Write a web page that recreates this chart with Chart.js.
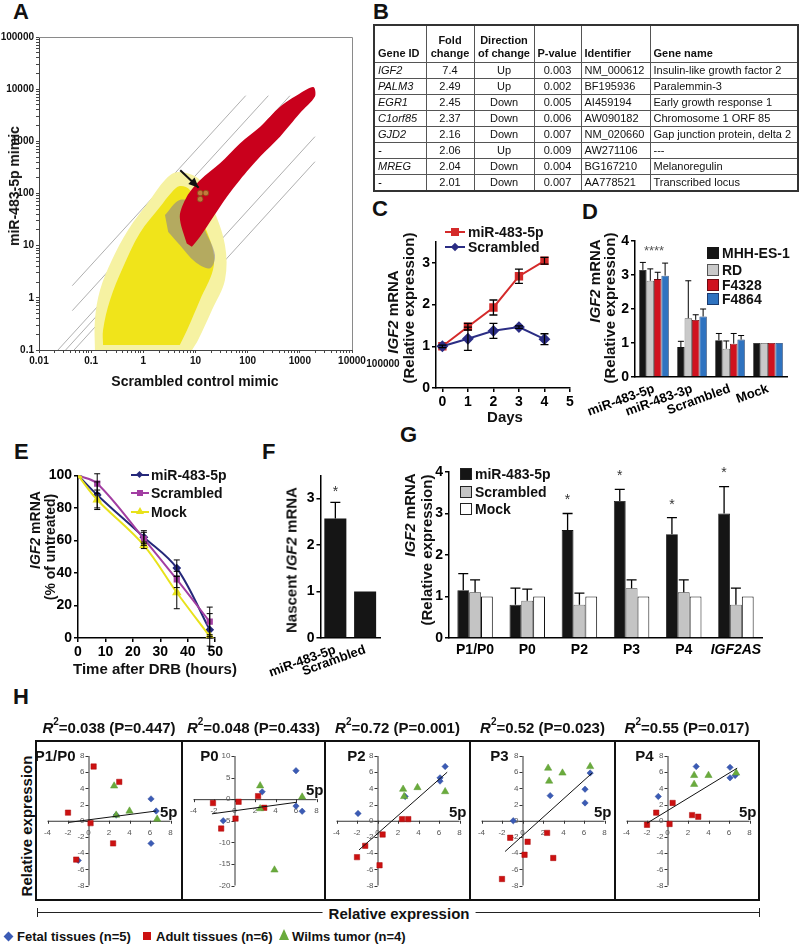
<!DOCTYPE html>
<html>
<head>
<meta charset="utf-8">
<script src="https://cdn.jsdelivr.net/npm/chart.js@4.4.1/dist/chart.umd.min.js"></script>
<style>
html,body{margin:0;padding:0;background:#fff;}
#fig{position:relative;width:801px;height:948px;overflow:hidden;font-family:'Liberation Sans',Arial,Helvetica,sans-serif;color:#111;}
#fig canvas{position:absolute;}
.L{position:absolute;font-weight:bold;font-size:22px;line-height:22px;}
.V{position:absolute;transform:translate(-50%,-50%) rotate(-90deg);white-space:nowrap;font-weight:bold;font-size:15px;line-height:15px;}
.C{position:absolute;transform:translate(-50%,-50%);white-space:nowrap;font-weight:bold;line-height:1;}
.T{position:absolute;white-space:nowrap;font-weight:bold;line-height:1;}
#tbl{position:absolute;left:373px;top:24px;width:424px;border-collapse:collapse;font-size:11px;table-layout:fixed;border:2px solid #333;}
#tbl td{border:1px solid #555;padding:0 3px;height:15px;line-height:15px;white-space:nowrap;overflow:hidden;}
#tbl tr.h td{height:34px;vertical-align:bottom;font-weight:bold;line-height:13px;padding-bottom:2px;}
#tbl td.c{text-align:center;}
.box{position:absolute;border:2px solid #111;box-sizing:border-box;}
.sq{position:absolute;box-sizing:border-box;}
</style>
</head>
<body>
<div id="fig"></div>
<script>
// ================= DATA =================
// Panel A: expression scatter (log-log); cloud outlines and marks
const aYellowHalo = [[0.118,0.1],[0.118,0.376],[0.148,1.41],[0.25,5.3],[0.51,20],[1.34,75],[2.6,182],[4.6,258],[12.2,182],[20.7,60],[36.7,10.3],[36.7,2.2],[20.7,0.585],[11.2,0.156],[8.6,0.1]];
const aYellowCore = [[0.169,0.125],[0.169,0.242],[0.23,0.91],[0.41,3.9],[0.86,17.5],[2.08,55],[3.54,107],[5.0,139],[7.8,117],[12.2,38.7],[21.6,8.3],[21.6,3.4],[12.2,0.91],[6.9,0.242],[5.0,0.125]];
const aMixed = [[2.6,38.7],[5.0,75],[9.8,60],[15.2,20],[23.6,6.6],[19,3.7],[9.8,4.9],[5.0,10.3],[3.0,18.3]];
const aRedBand = [[6.8,11],[5.0,36],[6.8,87],[12.3,182],[29.5,380],[71,912],[174,1900],[417,4600],[1000,8300],[1820,11000],[1950,7200],[1000,3450],[417,1230],[174,510],[71,182],[40,87],[22,36],[12.3,15],[8.5,9.5]];
const aHits = [[12.3,102],[15.8,102],[12.3,78]];
const aArrow = [[5.1,280],[11.5,129]];
const aGuideLines = [
  [[0.0435,1.71],[91.6,7500]],
  [[0.0435,0.568],[249,7500]],
  [[0.0231,0.1],[646,7500]],
  [[0.0324,0.1],[908,7500]],
  [[0.047,0.1],[1313,7500]],
  [[0.368,0.1],[1950,1230]],
  [[1.0,0.1],[1950,407]]
];

// Panel B: table
const bGeneIds = ['IGF2','PALM3','EGR1','C1orf85','GJD2','-','MREG','-'];
const bFold = ['7.4','2.49','2.45','2.37','2.16','2.06','2.04','2.01'];
const bDirection = ['Up','Up','Down','Down','Down','Up','Down','Down'];
const bPvalue = ['0.003','0.002','0.005','0.006','0.007','0.009','0.004','0.007'];
const bIdentifier = ['NM_000612','BF195936','AI459194','AW090182','NM_020660','AW271106','BG167210','AA778521'];
const bGeneName = ['Insulin-like growth factor 2','Paralemmin-3','Early growth response 1','Chromosome 1 ORF 85','Gap junction protein, delta 2','---','Melanoregulin','Transcribed locus'];

// Panel C
const cDays = [0,1,2,3,4];
const cMir = [1.0,1.47,1.93,2.68,3.05];
const cMirErr = [0.03,0.08,0.18,0.17,0.08];
const cScr = [1.0,1.18,1.37,1.46,1.17];
const cScrErr = [0,0.28,0.18,0.03,0.13];

// Panel D
const dGroups = ['miR-483-5p','miR-483-3p','Scrambled','Mock'];
const dSeries = ['MHH-ES-1','RD','F4328','F4864'];
const dValues = [[3.15,0.88,1.08,1.0],[2.83,1.73,0.83,1.0],[2.88,1.68,0.98,1.0],[2.98,1.78,1.1,1.0]];
const dErrors = [[0.22,0.17,0.2,0],[0.35,1.1,0.23,0],[0.2,0.15,0.3,0],[0.37,0.22,0.12,0]];

// Panel E
const eHours = [0,7,24,36,48];
const eMir = [100,88,62,43,5];
const eMirErr = [0,8,4,5,10];
const eScr = [100,95,61,36,10];
const eScrErr = [0,6,4,5,9];
const eMock = [100,85,57,28,1];
const eMockErr = [0,6,2,10,1];

// Panel F
const fLabels = ['miR-483-5p','Scrambled'];
const fValues = [2.57,1.0];
const fErrors = [0.35,0];

// Panel G
const gLabels = ['P1/P0','P0','P2','P3','P4','IGF2AS'];
const gMir = [1.15,0.8,2.6,3.3,2.5,3.0];
const gMirErr = [0.4,0.4,0.4,0.28,0.4,0.65];
const gScr = [1.1,0.9,0.8,1.2,1.1,0.8];
const gScrErr = [0.3,0.28,0.28,0.2,0.3,0.4];
const gMock = [1,1,1,1,1,1];
const gStarLevels = [null,null,3.33,3.9,3.2,3.98];

// Panel H
const hPanels = ['P1/P0','P0','P2','P3','P4'];
const hR2 = ['0.038','0.048','0.72','0.52','0.55'];
const hP = ['0.447','0.433','0.001','0.023','0.017'];
const hFetal = [
  [[6.1,2.7],[6.6,1.2],[2.7,0.7],[6.1,-2.8],[-1.0,-4.9]],
  [[6.0,6.6],[2.7,1.7],[6.0,-1.6],[6.6,-2.8],[-1.1,-5.0]],
  [[6.6,6.7],[6.1,5.3],[6.1,4.9],[2.7,3.0],[-1.9,0.9]],
  [[6.6,5.9],[6.1,3.9],[6.1,2.2],[2.7,3.1],[-0.9,0.0]],
  [[2.8,6.7],[6.1,6.6],[6.1,5.3],[6.6,5.6],[-0.9,3.0]]
];
const hAdult = [
  [[0.5,6.7],[3.0,4.8],[-2.0,1.0],[0.2,-0.3],[2.4,-2.8],[-1.2,-4.8]],
  [[2.3,0.7],[0.4,-0.6],[-2.1,-0.9],[2.9,-2.0],[0.1,-4.5],[-1.3,-6.8]],
  [[2.4,0.2],[3.0,0.2],[0.5,-1.7],[-1.2,-3.1],[-2.0,-4.5],[0.2,-5.5]],
  [[2.4,-1.5],[-1.2,-2.1],[0.5,-2.6],[0.2,-4.2],[3.0,-4.6],[-2.0,-7.2]],
  [[0.5,2.2],[-1.1,1.0],[2.4,0.7],[3.0,0.5],[-2.0,-0.5],[0.2,-0.4]]
];
const hWilms = [
  [[2.5,4.3],[2.7,0.7],[4.0,1.2],[6.7,0.2]],
  [[2.5,3.1],[2.5,-2.2],[6.6,0.5],[3.9,-16.4]],
  [[2.5,3.9],[2.6,3.0],[3.9,4.1],[6.6,3.6]],
  [[2.5,6.5],[2.6,4.9],[3.9,5.9],[6.6,6.7]],
  [[2.6,5.6],[2.6,4.5],[4.0,5.6],[6.7,5.9]]
];
const hFit = [
  [[-1.9,-0.2],[6.6,1.2]],
  [[-2.2,-3.4],[6.1,-0.7]],
  [[-1.8,-3.6],[6.8,6.0]],
  [[-1.7,-3.8],[6.8,5.9]],
  [[-2.0,-0.3],[6.8,6.5]]
];
const hYRange = [[-8,8],[-20,10],[-8,8],[-8,8],[-8,8]];
const hYTicks = [[-8,-6,-4,-2,0,2,4,6,8],[-20,-15,-10,-5,0,5,10],[-8,-6,-4,-2,0,2,4,6,8],[-8,-6,-4,-2,0,2,4,6,8],[-8,-6,-4,-2,0,2,4,6,8]];
const hXTicks = [-4,-2,0,2,4,6,8];
const hLegend = ['Fetal tissues (n=5)','Adult tissues (n=6)','Wilms tumor (n=4)'];

// ================= HELPERS =================
const FONT = "'Liberation Sans', Arial, Helvetica, sans-serif";
const fig = document.getElementById('fig');
Chart.defaults.font.family = FONT;
Chart.defaults.color = '#000';
Chart.defaults.animation = false;
Chart.defaults.responsive = false;
Chart.defaults.plugins.legend.display = false;
Chart.defaults.plugins.tooltip.enabled = false;

function canvasAt(left, top, w, h) {
  const c = document.createElement('canvas');
  c.width = w; c.height = h;
  c.style.left = left + 'px'; c.style.top = top + 'px';
  c.style.width = w + 'px'; c.style.height = h + 'px';
  fig.appendChild(c);
  return c;
}
function el(cls, html, style) {
  const d = document.createElement('div');
  d.className = cls; d.innerHTML = html;
  Object.assign(d.style, style);
  fig.appendChild(d);
  return d;
}
function letter(t, x, y) { el('L', t, {left: x + 'px', top: (y - 4) + 'px'}); }
function vtitle(html, cx, cy, size) { el('V', html, {left: cx + 'px', top: cy + 'px', fontSize: (size || 15) + 'px', lineHeight: (size || 15) + 'px'}); }
function ctitle(html, cx, cy, size) { el('C', html, {left: cx + 'px', top: cy + 'px', fontSize: (size || 15) + 'px'}); }
function pairs(a) { return a.map(p => ({x: p[0], y: p[1]})); }
const toXY = (xs, ys) => xs.map((x, i) => ({x: x, y: ys[i]}));

function linAxis(min, max, ticks, size, fit, isX, extra) {
  const o = {
    type: 'linear', min: min, max: max,
    afterBuildTicks: s => { s.ticks = ticks.map(v => ({value: v})); },
    grid: {drawOnChartArea: false, drawTicks: true, tickLength: 4, color: '#000', lineWidth: 1.5},
    border: {display: true, color: '#000', width: 1.5},
    ticks: {color: '#000', font: {size: size, weight: 'bold', family: FONT}, padding: 2, autoSkip: false, maxRotation: 0}
  };
  if (isX) o.afterFit = s => { s.height = fit; }; else o.afterFit = s => { s.width = fit; };
  return Object.assign(o, extra || {});
}
function catAxis(size, fit, rot, fontFn) {
  return {
    type: 'category',
    afterFit: s => { s.height = fit; },
    grid: {display: true, drawOnChartArea: false, drawTicks: false, color: '#000'},
    border: {display: true, color: '#000', width: 1.5},
    ticks: {color: '#000', font: fontFn || {size: size, weight: 'bold', family: FONT}, padding: 4, autoSkip: false, minRotation: rot, maxRotation: rot}
  };
}

const errorBars = {
  id: 'errorBars',
  afterDatasetsDraw(chart) {
    const ctx = chart.ctx;
    chart.data.datasets.forEach((ds, i) => {
      if (!ds.errors) return;
      const meta = chart.getDatasetMeta(i);
      const ys = chart.scales[meta.yAxisID];
      ctx.save();
      ctx.strokeStyle = '#000';
      ctx.lineWidth = ds.errLineWidth || 1.3;
      meta.data.forEach((pt, j) => {
        const e = ds.errors[j];
        if (!e) return;
        const raw = ds.data[j];
        const v = (raw !== null && typeof raw === 'object') ? raw.y : raw;
        const x = pt.x;
        const yt = ys.getPixelForValue(v + e);
        const yb = ys.getPixelForValue(ds.errUpOnly ? v : v - e);
        const c = ds.errCap || 3;
        ctx.beginPath();
        ctx.moveTo(x, yt); ctx.lineTo(x, yb);
        ctx.moveTo(x - c, yt); ctx.lineTo(x + c, yt);
        if (!ds.errUpOnly) { ctx.moveTo(x - c, yb); ctx.lineTo(x + c, yb); }
        ctx.stroke();
      });
      ctx.restore();
    });
  }
};
function starPlugin(items, size, color) {
  return {
    id: 'stars',
    afterDatasetsDraw(chart) {
      const ctx = chart.ctx, xs = chart.scales.x, ys = chart.scales.y;
      ctx.save();
      ctx.font = size + 'px ' + FONT; ctx.fillStyle = color;
      ctx.textAlign = 'center'; ctx.textBaseline = 'middle';
      items.forEach(it => {
        if (it.v === null) return;
        const x = (it.ds !== undefined) ? chart.getDatasetMeta(it.ds).data[it.i].x : xs.getPixelForValue(it.i);
        ctx.fillText(it.text, x, ys.getPixelForValue(it.v));
      });
      ctx.restore();
    }
  };
}
const framePlugin = {
  id: 'frame',
  afterDraw(chart) {
    const {left, top, right, bottom} = chart.chartArea;
    const ctx = chart.ctx;
    ctx.save(); ctx.strokeStyle = '#8a8a8a'; ctx.lineWidth = 1;
    ctx.beginPath();
    ctx.moveTo(left, top + 0.5); ctx.lineTo(right + 0.5, top + 0.5); ctx.lineTo(right + 0.5, bottom);
    ctx.stroke(); ctx.restore();
  }
};
const arrowPlugin = {
  id: 'arrowHead',
  afterDatasetsDraw(chart) {
    const ctx = chart.ctx;
    chart.data.datasets.forEach((ds, i) => {
      if (!ds.arrowHead) return;
      const pts = chart.getDatasetMeta(i).data;
      const a = pts[pts.length - 2], b = pts[pts.length - 1];
      const ang = Math.atan2(b.y - a.y, b.x - a.x), L = 10, W = 4.5;
      ctx.save(); ctx.fillStyle = '#111';
      ctx.beginPath();
      ctx.moveTo(b.x, b.y);
      ctx.lineTo(b.x - L * Math.cos(ang) + W * Math.sin(ang), b.y - L * Math.sin(ang) - W * Math.cos(ang));
      ctx.lineTo(b.x - L * Math.cos(ang) - W * Math.sin(ang), b.y - L * Math.sin(ang) + W * Math.cos(ang));
      ctx.closePath(); ctx.fill(); ctx.restore();
    });
  }
};
function crossAxes(o) {
  return {
    id: 'crossAxes',
    beforeDatasetsDraw(chart) {
      const ctx = chart.ctx, xs = chart.scales.x, ys = chart.scales.y;
      const x0 = xs.getPixelForValue(0), y0 = ys.getPixelForValue(0);
      const xl = xs.getPixelForValue(o.xTicks[0]), xr = xs.getPixelForValue(o.xTicks[o.xTicks.length - 1]);
      const yb = ys.getPixelForValue(o.yTicks[0]), yt = ys.getPixelForValue(o.yTicks[o.yTicks.length - 1]);
      ctx.save();
      ctx.strokeStyle = '#333'; ctx.lineWidth = 1;
      ctx.beginPath();
      ctx.moveTo(xl, y0 + 0.5); ctx.lineTo(xr, y0 + 0.5);
      ctx.moveTo(x0 + 0.5, yb); ctx.lineTo(x0 + 0.5, yt);
      o.xTicks.forEach(v => { const x = Math.round(xs.getPixelForValue(v)) + 0.5; ctx.moveTo(x, y0); ctx.lineTo(x, y0 + 3); });
      o.yTicks.forEach(v => { const y = Math.round(ys.getPixelForValue(v)) + 0.5; ctx.moveTo(x0 - 3, y); ctx.lineTo(x0, y); });
      ctx.stroke();
      ctx.fillStyle = '#555'; ctx.font = '8px ' + FONT;
      ctx.textAlign = 'center'; ctx.textBaseline = 'top';
      o.xTicks.forEach(v => ctx.fillText(String(v), xs.getPixelForValue(v), y0 + 8));
      ctx.textAlign = 'right'; ctx.textBaseline = 'middle';
      o.yTicks.forEach(v => ctx.fillText(String(v), x0 - 4, ys.getPixelForValue(v)));
      ctx.fillStyle = '#111'; ctx.font = 'bold 15px ' + FONT;
      ctx.textAlign = 'right'; ctx.textBaseline = 'alphabetic';
      ctx.fillText('5p', xr + 7, y0 - 4);
      ctx.textBaseline = 'middle';
      ctx.fillText(o.panel, x0 - o.gap, yt + 1);
      ctx.restore();
    }
  };
}

// ================= PANEL LETTERS =================
letter('A', 13, 5); letter('B', 373, 5); letter('C', 372, 202); letter('D', 582, 205);
letter('E', 14, 445); letter('F', 262, 445); letter('G', 400, 428); letter('H', 13, 690);

// ================= PANEL A =================
function logTicks(e0, e1) { const t = []; for (let e = e0; e < e1; e++) for (let m = 1; m < 10; m++) t.push(m * Math.pow(10, e)); t.push(Math.pow(10, e1)); return t; }
function logLabel(v) {
  const l = Math.log10(v);
  if (Math.abs(l - Math.round(l)) > 1e-6) return '';
  return v >= 1 ? String(Math.round(v)) : String(+v.toPrecision(1));
}
function logAxis(min, max, e0, e1, fit, isX) {
  const o = {
    type: 'logarithmic', min: min, max: max,
    afterBuildTicks: s => { s.ticks = logTicks(e0, e1).map(v => ({value: v})); },
    grid: {drawOnChartArea: false, drawTicks: true, tickLength: 3, color: '#444', lineWidth: 1},
    border: {display: true, color: '#444', width: 1},
    ticks: {color: '#111', font: {size: 10, weight: 'bold', family: FONT}, padding: 2, autoSkip: false, maxRotation: 0, callback: v => logLabel(v)}
  };
  if (isX) o.afterFit = s => { s.height = fit; }; else o.afterFit = s => { s.width = fit; };
  return o;
}
const aDatasets = [];
aGuideLines.forEach(seg => aDatasets.push({data: pairs(seg), borderColor: '#9a9a9a', borderWidth: 0.8, pointRadius: 0, order: 6}));
aDatasets.push({data: pairs(aYellowHalo), borderWidth: 0, borderColor: 'rgba(0,0,0,0)', backgroundColor: '#f6f2a2', fill: 'shape', tension: 0.35, pointRadius: 0, order: 5});
aDatasets.push({data: pairs(aYellowCore), borderWidth: 0, borderColor: 'rgba(0,0,0,0)', backgroundColor: '#f0e41a', fill: 'shape', tension: 0.35, pointRadius: 0, order: 4});
aDatasets.push({data: pairs(aMixed), borderWidth: 0, borderColor: 'rgba(0,0,0,0)', backgroundColor: 'rgba(120,112,165,0.5)', fill: 'shape', tension: 0.35, pointRadius: 0, order: 3});
aDatasets.push({data: pairs(aRedBand), borderWidth: 0, borderColor: 'rgba(0,0,0,0)', backgroundColor: '#c9001c', fill: 'shape', tension: 0.3, pointRadius: 0, order: 2});
aDatasets.push({data: pairs(aHits), showLine: false, pointRadius: 2.8, pointStyle: 'circle', backgroundColor: '#c27a3c', borderColor: '#8a4a1a', borderWidth: 0.8, order: 1});
aDatasets.push({data: pairs(aArrow), borderColor: '#111', borderWidth: 2, pointRadius: 0, arrowHead: true, order: 0});
new Chart(canvasAt(0, 0, 400, 400), {
  type: 'line',
  data: {datasets: aDatasets},
  options: {
    devicePixelRatio: 1,
    layout: {padding: {top: 37, right: 48, left: 0, bottom: 0}},
    scales: {x: logAxis(0.01, 10000, -2, 4, 50, true), y: logAxis(0.1, 100000, -1, 5, 39, false)}
  },
  plugins: [framePlugin, arrowPlugin]
});
ctitle('100000', 383, 364, 10);
vtitle('miR-483-5p mimic', 14, 186, 14);
ctitle('Scrambled control mimic', 195, 381, 14);

// ================= PANEL B (table) =================
(function () {
  const t = document.createElement('table'); t.id = 'tbl';
  const widths = [52, 48, 60, 47, 69, 148];
  const cg = document.createElement('colgroup');
  widths.forEach(w => { const c = document.createElement('col'); c.style.width = w + 'px'; cg.appendChild(c); });
  t.appendChild(cg);
  let h = '<tr class="h"><td>Gene ID</td><td class="c">Fold<br>change</td><td class="c">Direction<br>of change</td><td>P-value</td><td>Identifier</td><td>Gene name</td></tr>';
  bGeneIds.forEach((g, i) => {
    h += '<tr><td><i>' + g + '</i></td><td class="c">' + bFold[i] + '</td><td class="c">' + bDirection[i] + '</td><td class="c">' + bPvalue[i] + '</td><td>' + bIdentifier[i] + '</td><td>' + bGeneName[i] + '</td></tr>';
  });
  t.insertAdjacentHTML('beforeend', h);
  fig.appendChild(t);
})();

// ================= PANEL C =================
new Chart(canvasAt(395, 215, 182, 210), {
  type: 'line',
  data: {datasets: [
    {data: toXY(cDays, cScr), errors: cScrErr, borderColor: '#2b2d84', backgroundColor: '#2b2d84', borderWidth: 2, pointStyle: 'rectRot', pointRadius: 4.5, errCap: 4},
    {data: toXY(cDays, cMir), errors: cMirErr, borderColor: '#d42a2a', backgroundColor: '#d42a2a', borderWidth: 2, pointStyle: 'rect', pointRadius: 4.5, errCap: 4}
  ]},
  options: {
    devicePixelRatio: 1,
    layout: {padding: {top: 27, right: 7, left: 0, bottom: 0}},
    scales: {x: linAxis(-0.25, 5, [0, 1, 2, 3, 4, 5], 14, 37, true), y: linAxis(0, 3.5, [0, 1, 2, 3], 14, 41, false)}
  },
  plugins: [errorBars]
});
vtitle('<i>IGF2</i> mRNA', 392, 312);
vtitle('(Relative expression)', 408, 308);
ctitle('Days', 505, 416);
(function () {
  const items = [['miR-483-5p', '#d42a2a', 'sq', 232], ['Scrambled', '#2b2d84', 'dia', 247]];
  items.forEach(it => {
    el('sq', '', {left: '445px', top: (it[3] - 1) + 'px', width: '20px', height: '2px', background: it[1]});
    if (it[2] === 'sq') el('sq', '', {left: '451px', top: (it[3] - 4) + 'px', width: '8px', height: '8px', background: it[1]});
    else el('sq', '', {left: '452px', top: (it[3] - 3) + 'px', width: '6px', height: '6px', background: it[1], transform: 'rotate(45deg)'});
    el('T', it[0], {left: '468px', top: (it[3] - 7) + 'px', fontSize: '14px'});
  });
})();

// ================= PANEL D =================
const dColors = ['#151515', '#c9c9c9', '#d0121f', '#2f73c0'];
const dBorders = ['#151515', '#555', '#6e0a10', '#1b3c70'];
new Chart(canvasAt(575, 215, 222, 220), {
  type: 'bar',
  data: {labels: dGroups, datasets: dSeries.map((s, k) => ({
    label: s, data: dValues[k], errors: dErrors[k], errUpOnly: true, errCap: 3, errLineWidth: 1,
    backgroundColor: dColors[k], borderColor: dBorders[k], borderWidth: 0.8,
    categoryPercentage: 0.78, barPercentage: 1.0
  }))},
  options: {
    devicePixelRatio: 1,
    layout: {padding: {top: 26, right: 10, left: 0, bottom: 0}},
    scales: {x: catAxis(13, 58, 20), y: linAxis(0, 4, [0, 1, 2, 3, 4], 14, 60, false)}
  },
  plugins: [errorBars, starPlugin([{i: 0, v: 3.7, text: '****'}], 13, '#555')]
});
vtitle('<i>IGF2</i> mRNA', 594, 281);
vtitle('(Relative expression)', 609, 308);
dSeries.forEach((s, k) => {
  const y = [253, 270, 285, 299][k];
  el('sq', '', {left: '707px', top: (y - 6) + 'px', width: '12px', height: '12px', background: dColors[k], border: '1px solid ' + dBorders[k]});
  el('T', s, {left: '722px', top: (y - 7) + 'px', fontSize: '14px'});
});

// ================= PANEL E =================
new Chart(canvasAt(25, 465, 200, 195), {
  type: 'line',
  data: {datasets: [
    {data: toXY(eHours, eMock), errors: eMockErr, borderColor: '#e8e21c', backgroundColor: '#e8e21c', borderWidth: 2, pointStyle: 'triangle', pointRadius: 3.5, tension: 0.35, errCap: 3, errLineWidth: 1},
    {data: toXY(eHours, eScr), errors: eScrErr, borderColor: '#a23ea2', backgroundColor: '#a23ea2', borderWidth: 2, pointStyle: 'rect', pointRadius: 3, tension: 0.35, errCap: 3, errLineWidth: 1},
    {data: toXY(eHours, eMir), errors: eMirErr, borderColor: '#25287a', backgroundColor: '#25287a', borderWidth: 2, pointStyle: 'rectRot', pointRadius: 3, tension: 0.35, errCap: 3, errLineWidth: 1}
  ]},
  options: {
    devicePixelRatio: 1,
    layout: {padding: {top: 10, right: 8, left: 0, bottom: 0}},
    scales: {x: linAxis(0, 50, [0, 10, 20, 30, 40, 50], 14, 22, true), y: linAxis(0, 100, [0, 20, 40, 60, 80, 100], 14, 53, false)}
  },
  plugins: [errorBars]
});
vtitle('<i>IGF2</i> mRNA', 35, 530, 14);
vtitle('(% of untreated)', 50, 547, 14);
ctitle('Time after DRB (hours)', 155, 668);
(function () {
  const items = [['miR-483-5p', '#25287a', 'dia', 475], ['Scrambled', '#a23ea2', 'sq', 493], ['Mock', '#e8e21c', 'tri', 512]];
  items.forEach(it => {
    el('sq', '', {left: '131px', top: (it[3] - 1) + 'px', width: '18px', height: '2px', background: it[1]});
    if (it[2] === 'sq') el('sq', '', {left: '137px', top: (it[3] - 3) + 'px', width: '6px', height: '6px', background: it[1]});
    else if (it[2] === 'dia') el('sq', '', {left: '137px', top: (it[3] - 3) + 'px', width: '5px', height: '5px', background: it[1], transform: 'rotate(45deg)'});
    else el('sq', '', {left: '136px', top: (it[3] - 5) + 'px', width: '0', height: '0', borderLeft: '4px solid transparent', borderRight: '4px solid transparent', borderBottom: '7px solid ' + it[1]});
    el('T', it[0], {left: '151px', top: (it[3] - 7) + 'px', fontSize: '14px'});
  });
})();

// ================= PANEL F =================
new Chart(canvasAt(250, 465, 135, 225), {
  type: 'bar',
  data: {labels: fLabels, datasets: [{data: fValues, errors: fErrors, errUpOnly: true, errCap: 5, backgroundColor: '#151515', borderWidth: 0, categoryPercentage: 0.74, barPercentage: 1.0}]},
  options: {
    devicePixelRatio: 1,
    layout: {padding: {top: 6, right: 5, left: 0, bottom: 0}},
    scales: {x: catAxis(13, 52, 20), y: linAxis(0, 3.5, [0, 1, 2, 3], 14, 62, false)}
  },
  plugins: [errorBars, starPlugin([{i: 0, ds: 0, v: 3.14, text: '*'}], 14, '#333')]
});
vtitle('Nascent <i>IGF2</i> mRNA', 291, 560);

// ================= PANEL G =================
new Chart(canvasAt(400, 460, 370, 200), {
  type: 'bar',
  data: {labels: gLabels, datasets: [
    {data: gMir, errors: gMirErr, errUpOnly: true, errCap: 5, backgroundColor: '#151515', borderColor: '#151515', borderWidth: 0.8, categoryPercentage: 0.68, barPercentage: 1.0},
    {data: gScr, errors: gScrErr, errUpOnly: true, errCap: 5, backgroundColor: '#c4c4c4', borderColor: '#333', borderWidth: 0.8, categoryPercentage: 0.68, barPercentage: 1.0},
    {data: gMock, backgroundColor: '#ffffff', borderColor: '#111', borderWidth: 1, categoryPercentage: 0.68, barPercentage: 1.0}
  ]},
  options: {
    devicePixelRatio: 1,
    layout: {padding: {top: 12, right: 8, left: 0, bottom: 0}},
    scales: {
      x: catAxis(14, 22, 0, ctx => ({size: 14, weight: 'bold', family: FONT, style: ctx.index === 5 ? 'italic' : 'normal'})),
      y: linAxis(0, 4, [0, 1, 2, 3, 4], 14, 49, false)
    }
  },
  plugins: [errorBars, starPlugin(gStarLevels.map((v, i) => ({i: i, ds: 0, v: v, text: '*'})), 14, '#333')]
});
vtitle('<i>IGF2</i> mRNA', 409, 515);
vtitle('(Relative expression)', 426, 550);
(function () {
  const items = [['miR-483-5p', '#151515', 474], ['Scrambled', '#c4c4c4', 492], ['Mock', '#ffffff', 509]];
  items.forEach(it => {
    el('sq', '', {left: '460px', top: (it[2] - 6) + 'px', width: '12px', height: '12px', background: it[1], border: '1px solid #222'});
    el('T', it[0], {left: '475px', top: (it[2] - 7) + 'px', fontSize: '14px'});
  });
})();

// ================= PANEL H =================
const hLefts = [36, 182, 325, 470, 615];
const hWidths = [146, 143, 145, 145, 144];
const hGaps = [13, 16, 12, 14, 14];
el('box', '', {left: '35px', top: '740px', width: '725px', height: '161px'});
[182, 325, 470, 615].forEach(x => el('sq', '', {left: (x - 1) + 'px', top: '740px', width: '2px', height: '161px', background: '#111'}));
hPanels.forEach((p, k) => {
  const w = hWidths[k];
  new Chart(canvasAt(hLefts[k] + 1, 742, w - 1, 157), {
    type: 'scatter',
    data: {datasets: [
      {data: pairs(hFit[k]), showLine: true, borderColor: '#111', borderWidth: 1, pointRadius: 0},
      {data: pairs(hWilms[k]), pointStyle: 'triangle', pointRadius: 4.2, backgroundColor: '#6aab3d', borderColor: '#5a9a30', borderWidth: 0.5},
      {data: pairs(hAdult[k]), pointStyle: 'rect', pointRadius: 3.8, backgroundColor: '#cc1111', borderColor: '#aa0c0c', borderWidth: 0.5},
      {data: pairs(hFetal[k]), pointStyle: 'rectRot', pointRadius: 3.2, backgroundColor: '#3b5bb5', borderColor: '#304c9a', borderWidth: 0.5}
    ]},
    options: {
      devicePixelRatio: 1,
      layout: {padding: {top: 14, left: 10.5, right: w - 1 - 133.5, bottom: 13.5}},
      scales: {
        x: {type: 'linear', display: false, min: -4, max: 8},
        y: {type: 'linear', display: false, min: hYRange[k][0], max: hYRange[k][1]}
      }
    },
    plugins: [crossAxes({xTicks: hXTicks, yTicks: hYTicks[k], panel: p, gap: hGaps[k]})]
  });
  ctitle('<i>R</i><sup style="font-size:10px;position:relative;top:-2px">2</sup>=' + hR2[k] + ' (P=' + hP[k] + ')', hLefts[k] + w / 2, 727, 15);
});
vtitle('Relative expression', 26, 826);
el('sq', '', {left: '37px', top: '912px', width: '723px', height: '1px', background: '#222'});
el('sq', '', {left: '37px', top: '908px', width: '1px', height: '9px', background: '#222'});
el('sq', '', {left: '759px', top: '908px', width: '1px', height: '9px', background: '#222'});
el('C', 'Relative expression', {left: '399px', top: '913px', fontSize: '15px', background: '#fff', padding: '0 6px'});
// bottom legend
el('sq', '', {left: '5px', top: '933px', width: '7px', height: '7px', background: '#3b5bb5', transform: 'rotate(45deg)'});
el('T', hLegend[0], {left: '17px', top: '930px', fontSize: '13px'});
el('sq', '', {left: '143px', top: '932px', width: '8px', height: '8px', background: '#cc1111'});
el('T', hLegend[1], {left: '156px', top: '930px', fontSize: '13px'});
el('sq', '', {left: '279px', top: '929px', width: '0', height: '0', borderLeft: '5px solid transparent', borderRight: '5px solid transparent', borderBottom: '11px solid #6aab3d'});
el('T', hLegend[2], {left: '292px', top: '930px', fontSize: '13px'});
</script>
</body>
</html>
